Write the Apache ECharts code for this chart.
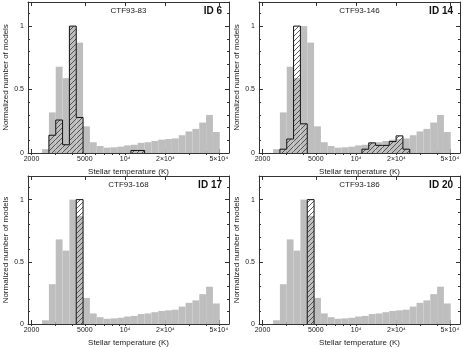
<!DOCTYPE html>
<html><head><meta charset="utf-8">
<script src="https://cdn.jsdelivr.net/npm/echarts@6/dist/echarts.min.js"></script>
<style>html,body{margin:0;padding:0;background:#fff}#c{width:463px;height:348px}</style>
</head><body><div id="c"></div>
<script>
// ---- data ----
const binEdgesLogT = [3.380,3.431,3.482,3.533,3.584,3.635,3.686,3.737,3.788,3.839,3.890,3.941,3.992,
  4.043,4.094,4.145,4.196,4.247,4.298,4.349,4.400,4.451,4.502,4.553,4.604,4.655,4.706];
const modelFraction = [0.03,0.32,0.68,0.59,1.00,0.87,0.21,0.085,0.055,0.042,0.045,0.05,0.06,
  0.065,0.08,0.085,0.095,0.105,0.11,0.115,0.14,0.17,0.19,0.24,0.30,0.165];
const hatchedCTF83  = [0,0.14,0.26,0.065,1.00,0.28,0,0,0,0,0,0,0,0.02,0.02,0,0,0,0,0,0,0,0,0,0,0];
const hatchedCTF146 = [0,0.03,0.11,1.00,0.23,0,0,0,0,0,0,0,0,0.03,0.08,0.06,0.06,0.09,0.135,0.03,0,0,0,0,0,0];
const hatchedCTF168 = [0,0,0,0,0,1.00,0,0,0,0,0,0,0,0,0,0,0,0,0,0,0,0,0,0,0,0];
const hatchedCTF186 = [0,0,0,0,0,1.00,0,0,0,0,0,0,0,0,0,0,0,0,0,0,0,0,0,0,0,0];
const panelNames = ['CTF93-83','CTF93-146','CTF93-168','CTF93-186'];
const panelIds = ['ID 6','ID 14','ID 17','ID 20'];
const xMajorTicksK = [2000,5000,10000,20000,50000];
const xMajorLabels = ['2000','5000','10\u2074','2\u00d710\u2074','5\u00d710\u2074'];
const xMinorTicksK = [2000,3000,4000,5000,6000,7000,8000,9000,10000,20000,30000,40000,50000];
const yMajorTicks = [0,0.5,1];
const yMajorLabels = ['0','0.5','1'];
const yMinorTicks = [0.1,0.2,0.3,0.4,0.6,0.7,0.8,0.9,1.1];
const xRangeLogT = [3.275, 4.775];
const yRange = [0, 1.19];

// ---- chart ----
const hatchedSets = [hatchedCTF83, hatchedCTF146, hatchedCTF168, hatchedCTF186];
const xMajorLogs = xMajorTicksK.map(v => Math.log10(v));
const xMinorLogs = xMinorTicksK.map(v => Math.log10(v));
const FONT = 'Liberation Sans, Arial, sans-serif';
const TXT = '#222', LINE = '#333', GRAY = '#bebebe';

function makeHatch(){
  const s = 5, c = document.createElement('canvas'); c.width = s; c.height = s;
  const ctx = c.getContext('2d'); ctx.strokeStyle = '#3a3a3a'; ctx.lineWidth = 0.8;
  ctx.beginPath();
  ctx.moveTo(0, s); ctx.lineTo(s, 0);
  ctx.moveTo(-1, 1); ctx.lineTo(1, -1);
  ctx.moveTo(s - 1, s + 1); ctx.lineTo(s + 1, s - 1);
  ctx.stroke();
  return c;
}
const hatchPattern = {image: makeHatch(), repeat: 'repeat'};

const grids = [
  {left: 28, top: 2, width: 201, height: 151},
  {left: 259, top: 2, width: 201, height: 151},
  {left: 28, top: 176, width: 201, height: 151},
  {left: 259, top: 176, width: 201, height: 151}
];
const xAxes = [], yAxes = [], series = [], graphics = [];
grids.forEach((g, gi) => {
  const xBase = xAxes.length, yBase = yAxes.length;
  const xCommon = {gridIndex: gi, type: 'value', min: xRangeLogT[0], max: xRangeLogT[1], splitLine: {show: false}};
  xAxes.push(Object.assign({}, xCommon, {
    position: 'bottom',
    axisLine: {show: true, onZero: false, lineStyle: {color: LINE, width: 1}},
    axisTick: {show: true, inside: true, length: 4, customValues: xMajorLogs, lineStyle: {color: LINE}},
    axisLabel: {show: true, customValues: xMajorLogs, fontSize: 7, color: TXT, fontFamily: FONT, margin: 3,
      formatter: v => { const i = xMajorLogs.findIndex(t => Math.abs(t - v) < 1e-6); return i >= 0 ? xMajorLabels[i] : ''; }},
    name: 'Stellar temperature (K)', nameLocation: 'middle', nameGap: 15,
    nameTextStyle: {fontSize: 8, color: TXT, fontFamily: FONT}
  }));
  xAxes.push(Object.assign({}, xCommon, {position: 'bottom', axisLine: {show: false},
    axisTick: {show: true, inside: true, length: 2, customValues: xMinorLogs, lineStyle: {color: LINE}}, axisLabel: {show: false}}));
  xAxes.push(Object.assign({}, xCommon, {position: 'top', axisLine: {show: true, onZero: false, lineStyle: {color: LINE, width: 1}},
    axisTick: {show: true, inside: true, length: 4, customValues: xMajorLogs, lineStyle: {color: LINE}}, axisLabel: {show: false}}));
  xAxes.push(Object.assign({}, xCommon, {position: 'top', axisLine: {show: false},
    axisTick: {show: true, inside: true, length: 2, customValues: xMinorLogs, lineStyle: {color: LINE}}, axisLabel: {show: false}}));

  const yCommon = {gridIndex: gi, type: 'value', min: yRange[0], max: yRange[1], splitLine: {show: false}};
  yAxes.push(Object.assign({}, yCommon, {
    position: 'left',
    axisLine: {show: true, onZero: false, lineStyle: {color: LINE, width: 1}},
    axisTick: {show: true, inside: true, length: 4, customValues: yMajorTicks, lineStyle: {color: LINE}},
    axisLabel: {show: true, customValues: yMajorTicks, fontSize: 7, color: TXT, fontFamily: FONT, margin: 4,
      formatter: v => { const i = yMajorTicks.findIndex(t => Math.abs(t - v) < 1e-6); return i >= 0 ? yMajorLabels[i] : ''; }},
    name: 'Normalized number of models', nameLocation: 'middle', nameGap: 18, nameRotate: 90,
    nameTextStyle: {fontSize: 8, color: TXT, fontFamily: FONT}
  }));
  yAxes.push(Object.assign({}, yCommon, {position: 'left', axisLine: {show: false},
    axisTick: {show: true, inside: true, length: 2, customValues: yMinorTicks, lineStyle: {color: LINE}}, axisLabel: {show: false}}));
  yAxes.push(Object.assign({}, yCommon, {position: 'right', axisLine: {show: true, onZero: false, lineStyle: {color: LINE, width: 1}},
    axisTick: {show: true, inside: true, length: 4, customValues: yMajorTicks, lineStyle: {color: LINE}}, axisLabel: {show: false}}));
  yAxes.push(Object.assign({}, yCommon, {position: 'right', axisLine: {show: false},
    axisTick: {show: true, inside: true, length: 2, customValues: yMinorTicks, lineStyle: {color: LINE}}, axisLabel: {show: false}}));

  // gray model histogram
  series.push({
    type: 'custom', xAxisIndex: xBase, yAxisIndex: yBase, z: 1,
    data: modelFraction.map((v, i) => [binEdgesLogT[i], binEdgesLogT[i + 1], v]),
    encode: {x: [0, 1], y: 2},
    renderItem: (params, api) => {
      const p0 = api.coord([api.value(0), api.value(2)]);
      const p1 = api.coord([api.value(1), 0]);
      return {type: 'rect', shape: {x: p0[0], y: p0[1], width: p1[0] - p0[0], height: p1[1] - p0[1]},
        style: {fill: GRAY}};
    }
  });
  // hatched histogram (step outline)
  const h = hatchedSets[gi];
  const hData = [];
  h.forEach((v, i) => {
    if (v > 0) hData.push([binEdgesLogT[i], binEdgesLogT[i + 1], v, i > 0 ? h[i - 1] : 0, i < h.length - 1 ? h[i + 1] : 0]);
  });
  series.push({
    type: 'custom', xAxisIndex: xBase, yAxisIndex: yBase, z: 3,
    data: hData, encode: {x: [0, 1], y: 2},
    renderItem: (params, api) => {
      const x0 = api.value(0), x1 = api.value(1), v = api.value(2), prev = api.value(3), next = api.value(4);
      const tl = api.coord([x0, v]), br = api.coord([x1, 0]);
      const pPrev = api.coord([x0, prev]);
      const ls = {stroke: '#111', lineWidth: 1, fill: null};
      const children = [
        {type: 'rect', shape: {x: tl[0], y: tl[1], width: br[0] - tl[0], height: br[1] - tl[1]}, style: {fill: hatchPattern}},
        {type: 'line', shape: {x1: tl[0], y1: tl[1], x2: br[0], y2: tl[1]}, style: ls},
        {type: 'line', shape: {x1: tl[0], y1: pPrev[1], x2: tl[0], y2: tl[1]}, style: ls}
      ];
      if (next === 0) children.push({type: 'line', shape: {x1: br[0], y1: tl[1], x2: br[0], y2: br[1]}, style: ls});
      return {type: 'group', children: children};
    }
  });

  graphics.push({type: 'text', x: g.left + g.width / 2, y: g.top + 9, z: 10,
    style: {text: panelNames[gi], font: '8px ' + FONT, fill: TXT, textAlign: 'center', textVerticalAlign: 'middle'}});
  graphics.push({type: 'text', x: g.left + g.width - 7, y: g.top + 9, z: 10,
    style: {text: panelIds[gi], font: 'bold 10px ' + FONT, fill: '#111', textAlign: 'right', textVerticalAlign: 'middle'}});
});

const chart = echarts.init(document.getElementById('c'), null, {renderer: 'canvas'});
chart.setOption({
  animation: false,
  backgroundColor: '#fff',
  grid: grids,
  xAxis: xAxes,
  yAxis: yAxes,
  series: series,
  graphic: graphics
});
</script></body></html>
